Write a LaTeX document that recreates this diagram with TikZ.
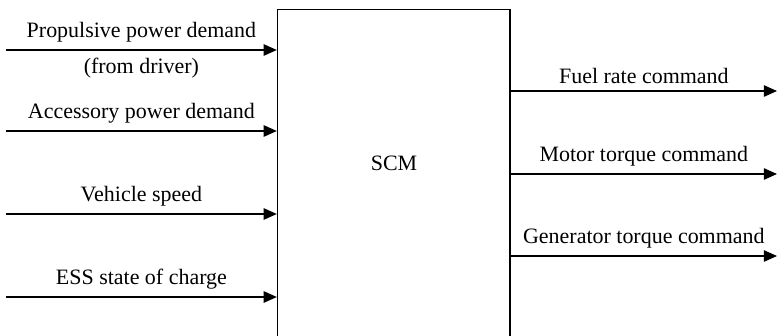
\documentclass[tikz,border=0pt]{standalone}
\usepackage{fontspec}
\setmainfont{Liberation Serif}
\usetikzlibrary{arrows.meta}

\begin{document}
\begin{tikzpicture}[x=0.02cm,y=-0.02cm,
    sig/.style={draw=black,line width=0.8pt,-{Triangle[length=7.5pt,width=6.5pt]}},
    lab/.style={font=\fontsize{12.5}{15}\selectfont,inner sep=4pt}]
    \useasboundingbox (0,0) rectangle (777,335);

    \node[draw=black,line width=0.8pt,minimum width=4.65cm,minimum height=6.71cm,inner sep=0pt] (scm) at (393.75,177.25) {};
    \node[lab] (scmtext) at (394,163) {SCM};

    \coordinate (in1) at (6,50);
    \coordinate (in2) at (6,131);
    \coordinate (in3) at (6,214);
    \coordinate (in4) at (6,297);

    \coordinate (out1) at (777,91);
    \coordinate (out2) at (777,174);
    \coordinate (out3) at (777,256);

    \draw[sig] (in1) -- (in1 -| scm.west) node[lab,midway,above] {Propulsive power demand} node[lab,midway,below] {(from driver)};
    \draw[sig] (in2) -- (in2 -| scm.west) node[lab,midway,above] {Accessory power demand};
    \draw[sig] (in3) -- (in3 -| scm.west) node[lab,midway,above] {Vehicle speed};
    \draw[sig] (in4) -- (in4 -| scm.west) node[lab,midway,above] {ESS state of charge};

    \draw[sig] (out1 -| scm.east) -- (out1) node[lab,midway,above] {Fuel rate command};
    \draw[sig] (out2 -| scm.east) -- (out2) node[lab,midway,above] {Motor torque command};
    \draw[sig] (out3 -| scm.east) -- (out3) node[lab,midway,above] {Generator torque command};
\end{tikzpicture}
\end{document}
